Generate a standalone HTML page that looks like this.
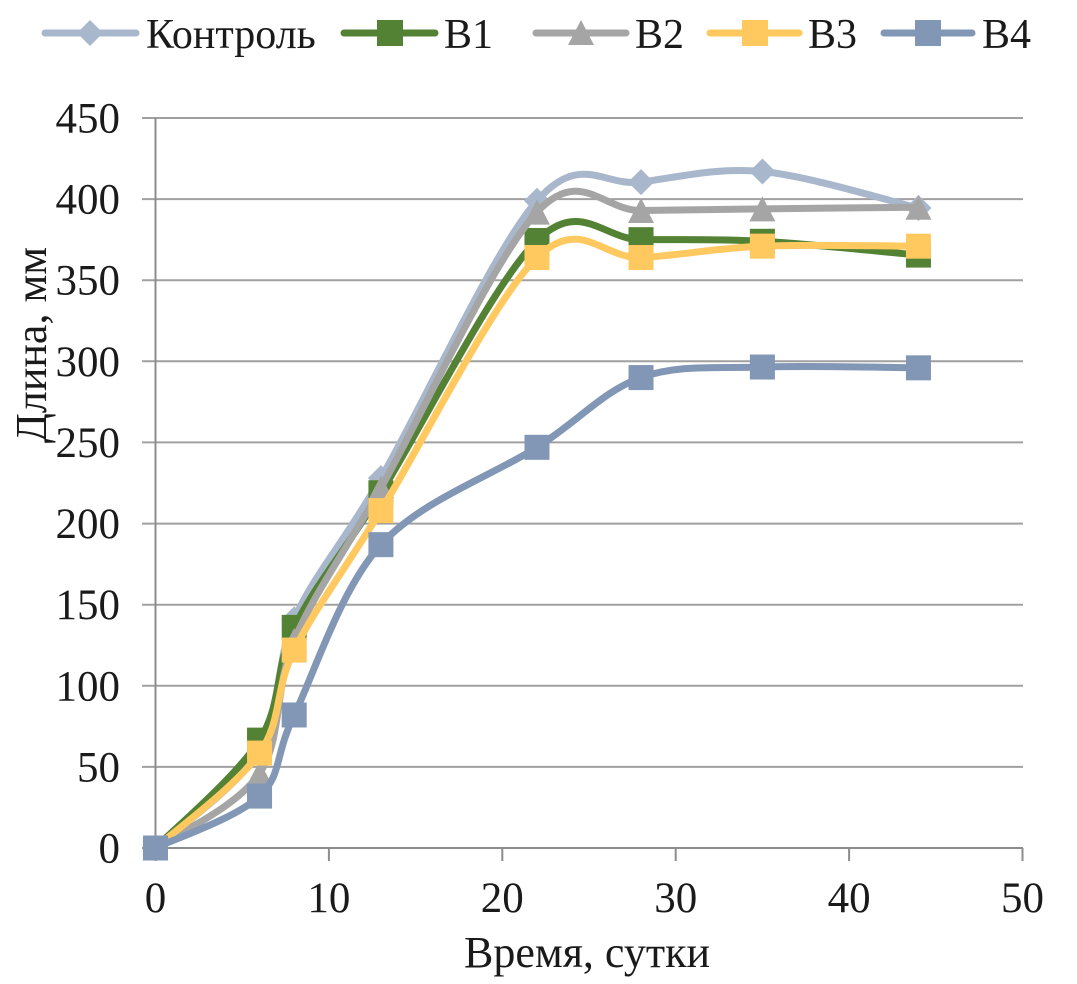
<!DOCTYPE html>
<html>
<head>
<meta charset="utf-8">
<style>
  html, body { margin:0; padding:0; background:#fff; }
  body { width:1077px; height:984px; overflow:hidden; }
  svg { display:block; }
  svg, svg text { font-family: "Liberation Serif", "Tinos", "Times New Roman", "DejaVu Serif", "Noto Serif CJK SC", serif; }
  text { fill:#1a1a1a; }
</style>
</head>
<body>
<svg id="chart" width="1077" height="984" viewBox="0 0 1077 984" xmlns="http://www.w3.org/2000/svg" font-family="'Liberation Serif', 'Tinos', 'Times New Roman', 'DejaVu Serif', 'Noto Serif CJK SC', serif">
  <rect width="1077" height="984" fill="#ffffff"/>
  <!-- gridlines -->
  <g stroke="#A0A0A0" stroke-width="2">
    <line x1="142" y1="118.0" x2="1023" y2="118.0"/>
    <line x1="142" y1="199.1" x2="1023" y2="199.1"/>
    <line x1="142" y1="280.2" x2="1023" y2="280.2"/>
    <line x1="142" y1="361.3" x2="1023" y2="361.3"/>
    <line x1="142" y1="442.4" x2="1023" y2="442.4"/>
    <line x1="142" y1="523.6" x2="1023" y2="523.6"/>
    <line x1="142" y1="604.7" x2="1023" y2="604.7"/>
    <line x1="142" y1="685.8" x2="1023" y2="685.8"/>
    <line x1="142" y1="766.9" x2="1023" y2="766.9"/>
  </g>
  <!-- axes -->
  <g stroke="#8C8C8C" stroke-width="2">
    <line x1="155.5" y1="118" x2="155.5" y2="848"/>
    <line x1="142" y1="848" x2="1023" y2="848"/>
    <line x1="155.5" y1="848" x2="155.5" y2="861"/>
    <line x1="328.9" y1="848" x2="328.9" y2="861"/>
    <line x1="502.3" y1="848" x2="502.3" y2="861"/>
    <line x1="675.7" y1="848" x2="675.7" y2="861"/>
    <line x1="849.1" y1="848" x2="849.1" y2="861"/>
    <line x1="1022.5" y1="848" x2="1022.5" y2="861"/>
  </g>
  <!-- y tick labels -->
  <g font-size="43" text-anchor="end">
    <text x="120" y="132.5">450</text>
    <text x="120" y="213.6">400</text>
    <text x="120" y="294.7">350</text>
    <text x="120" y="375.8">300</text>
    <text x="120" y="456.9">250</text>
    <text x="120" y="538.1">200</text>
    <text x="120" y="619.2">150</text>
    <text x="120" y="700.3">100</text>
    <text x="120" y="781.4">50</text>
    <text x="120" y="862.5">0</text>
  </g>
  <!-- x tick labels -->
  <g font-size="43" text-anchor="middle">
    <text x="155.5" y="912">0</text>
    <text x="328.9" y="912">10</text>
    <text x="502.3" y="912">20</text>
    <text x="675.7" y="912">30</text>
    <text x="849.1" y="912">40</text>
    <text x="1022.5" y="912">50</text>
  </g>
  <!-- axis titles -->
  <text x="587" y="967" font-size="44" text-anchor="middle">Время, сутки</text>
  <text transform="translate(46,345) rotate(-90)" font-size="44" text-anchor="middle">Длина, мм</text>

  <!-- series -->
  <g id="series"></g>

  <!-- legend -->
  <g stroke-width="7" stroke-linecap="round">
    <line x1="45" y1="33" x2="136" y2="33" stroke="#A9B7CC"/>
    <line x1="344" y1="33" x2="435" y2="33" stroke="#548235"/>
    <line x1="536" y1="33" x2="626" y2="33" stroke="#A5A5A5"/>
    <line x1="710" y1="33" x2="799" y2="33" stroke="#FFC95F"/>
    <line x1="884" y1="33" x2="972" y2="33" stroke="#8197B5"/>
  </g>
  <polygon points="90,20 103,33 90,46 77,33" fill="#A9B7CC"/>
  <rect x="377" y="20" width="26" height="26" fill="#548235"/>
  <polygon points="581,20 594,45 568,45" fill="#A5A5A5"/>
  <rect x="742" y="20" width="26" height="26" fill="#FFC95F"/>
  <rect x="915" y="20" width="26" height="26" fill="#8197B5"/>
  <g font-size="42">
    <text x="146" y="48">Контроль</text>
    <text x="444" y="48">B1</text>
    <text x="635" y="48">B2</text>
    <text x="808" y="48">B3</text>
    <text x="982" y="48">B4</text>
  </g>
</svg>
<script>
(function(){
  var NS = "http://www.w3.org/2000/svg";
  var g = document.getElementById("series");
  var xs = [0,6,8,13,22,28,35,44];
  function X(v){ return 155.5 + v*17.34; }
  function Y(v){ return 848 - v*1.6222; }
  var series = [
    {c:"#A9B7CC", m:"diamond", d:[0,60,141,228,399,410.5,417,394.5]},
    {c:"#548235", m:"square",  d:[0,66.5,136,219,374.5,375,374,365.5]},
    {c:"#A5A5A5", m:"tri",     d:[0,46,128,222,392,393,394,395]},
    {c:"#FFC95F", m:"square",  d:[0,58.5,122,208,364,364,371,371]},
    {c:"#8197B5", m:"square",  d:[0,32,82,187,247,290,296.5,296]}
  ];
  series.forEach(function(s){
    var p = xs.map(function(x,i){ return [X(x), Y(s.d[i])]; });
    var n = p.length;
    var d = "M" + p[0][0].toFixed(2) + "," + p[0][1].toFixed(2);
    for (var i=0;i<n-1;i++){
      var p0 = p[Math.max(0,i-1)], p1 = p[i], p2 = p[i+1], p3 = p[Math.min(n-1,i+2)];
      var c1x = p1[0] + (p2[0]-p0[0])/6, c1y = p1[1] + (p2[1]-p0[1])/6;
      var c2x = p2[0] - (p3[0]-p1[0])/6, c2y = p2[1] - (p3[1]-p1[1])/6;
      d += " C" + c1x.toFixed(2)+","+c1y.toFixed(2)+" "+c2x.toFixed(2)+","+c2y.toFixed(2)+" "+p2[0].toFixed(2)+","+p2[1].toFixed(2);
    }
    var path = document.createElementNS(NS,"path");
    path.setAttribute("d", d);
    path.setAttribute("fill","none");
    path.setAttribute("stroke", s.c);
    path.setAttribute("stroke-width","7");
    path.setAttribute("stroke-linecap","round");
    path.setAttribute("stroke-linejoin","round");
    g.appendChild(path);
    p.forEach(function(pt){
      var el;
      var x = pt[0], y = pt[1];
      if (s.m === "square"){
        el = document.createElementNS(NS,"rect");
        el.setAttribute("x", (x-12.5).toFixed(2));
        el.setAttribute("y", (y-12.5).toFixed(2));
        el.setAttribute("width","25");
        el.setAttribute("height","25");
      } else if (s.m === "diamond"){
        el = document.createElementNS(NS,"polygon");
        el.setAttribute("points", x+","+(y-13)+" "+(x+13)+","+y+" "+x+","+(y+13)+" "+(x-13)+","+y);
      } else {
        el = document.createElementNS(NS,"polygon");
        el.setAttribute("points", x+","+(y-12.5)+" "+(x+13)+","+(y+12.5)+" "+(x-13)+","+(y+12.5));
      }
      el.setAttribute("fill", s.c);
      g.appendChild(el);
    });
  });
})();
</script>
</body>
</html>
